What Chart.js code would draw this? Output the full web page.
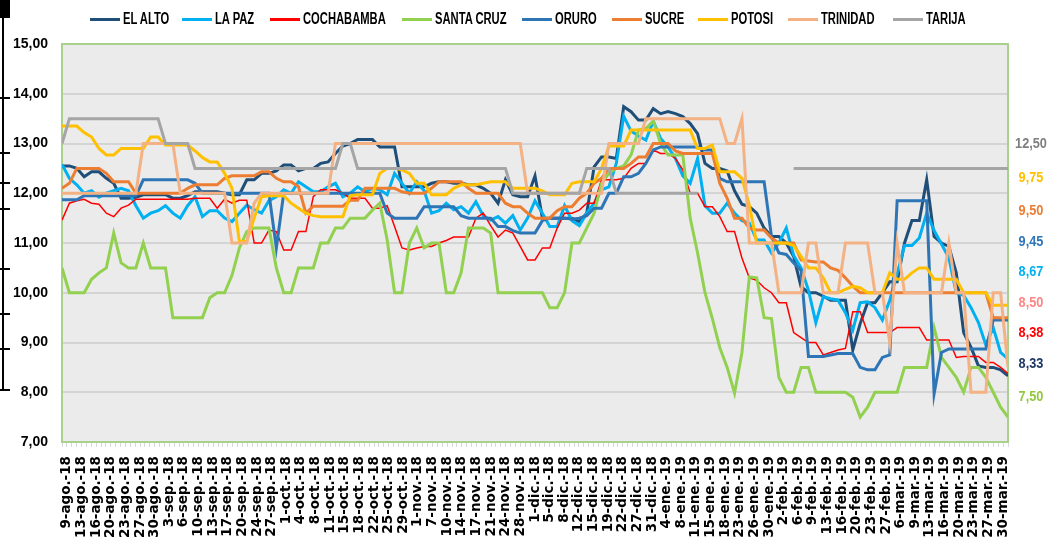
<!doctype html>
<html lang="es">
<head>
<meta charset="UTF-8">
<title>Precios por ciudad</title>
<style>
  * { margin: 0; padding: 0; box-sizing: border-box; }
  body { background: #fff; }
  #contenedor { position: relative; width: 1049px; height: 543px; overflow: hidden; }
  #grafico { position: absolute; left: 0; top: 0; }
  .final {
    position: absolute; left: 1011px; width: 40px; text-align: center;
    font: bold 15px 'Liberation Sans', Arial, sans-serif;
    line-height: 18px; transform: scaleX(0.85);
  }
  .marcaLeyenda { position: absolute; top: 18px; width: 30px; height: 3px; }
  .textoLeyenda {
    position: absolute; top: 10px; white-space: nowrap; color: #000;
    font: bold 16px 'Liberation Sans', Arial, sans-serif; line-height: 18px;
    transform: scaleX(0.7); transform-origin: left center;
  }
  #bloque { position: absolute; left: 0; top: 0; width: 10px; height: 18px; background: #000; }
  #barra { position: absolute; left: 2px; top: 0; width: 2px; height: 390px; background: #000; }
  .marca { position: absolute; left: 0; width: 10px; height: 2px; background: #000; }
</style>
</head>
<body>
<div id="contenedor">
  <canvas id="grafico" width="1049" height="543"></canvas>
  <div id="bloque"></div>
  <div id="barra"></div>
</div>

<script src="https://cdn.jsdelivr.net/npm/chart.js"></script>
<script>
// fechas rotuladas (cada tercer dato del original)
const fechas = ['9-ago.-18','13-ago.-18','16-ago.-18','20-ago.-18','23-ago.-18','27-ago.-18','30-ago.-18',
  '3-sep.-18','6-sep.-18','10-sep.-18','13-sep.-18','17-sep.-18','20-sep.-18','24-sep.-18','27-sep.-18',
  '1-oct.-18','4-oct.-18','8-oct.-18','11-oct.-18','15-oct.-18','18-oct.-18','22-oct.-18','25-oct.-18','29-oct.-18',
  '1-nov.-18','7-nov.-18','10-nov.-18','14-nov.-18','17-nov.-18','21-nov.-18','24-nov.-18','28-nov.-18',
  '1-dic.-18','5-dic.-18','8-dic.-18','12-dic.-18','15-dic.-18','19-dic.-18','22-dic.-18','27-dic.-18','31-dic.-18',
  '4-ene.-19','8-ene.-19','11-ene.-19','15-ene.-19','18-ene.-19','23-ene.-19','26-ene.-19','30-ene.-19',
  '2-feb.-19','6-feb.-19','9-feb.-19','13-feb.-19','16-feb.-19','20-feb.-19','23-feb.-19','27-feb.-19',
  '6-mar.-19','9-mar.-19','13-mar.-19','16-mar.-19','20-mar.-19','23-mar.-19','27-mar.-19','30-mar.-19'];

const elAlto = [12.55,12.55,12.5,12.33,12.43,12.43,12.3,12.2,11.9,11.9,11.92,11.97,11.97,11.97,11.97,11.9,11.9,11.95,12.03,12.03,12.03,12.03,12.0,11.97,
  11.97,12.27,12.27,12.4,12.4,12.45,12.57,12.57,12.45,12.5,12.5,12.6,12.63,12.8,12.95,13.0,13.08,13.08,13.08,12.93,12.93,12.93,12.13,
  12.13,12.13,12.13,12.2,12.23,12.23,12.2,12.2,12.17,12.17,12.1,12.0,11.8,12.27,11.97,11.93,11.93,12.35,11.5,11.5,11.5,11.5,11.5,
  11.43,11.6,12.53,12.73,12.73,12.7,13.74,13.64,13.47,13.47,13.7,13.6,13.64,13.6,13.54,13.4,13.2,12.6,12.5,12.5,12.45,12.05,11.78,
  11.73,11.6,11.3,11.13,11.13,11.0,10.73,10.12,10.0,10.0,9.93,9.85,9.85,9.85,8.85,9.38,9.8,9.8,10.0,10.22,
  10.22,11.0,11.45,11.45,12.27,11.13,11.0,10.93,10.4,9.2,8.9,8.53,8.5,8.5,8.45,8.33];

const laPaz = [12.58,12.3,12.17,12.0,12.05,11.92,12.0,12.05,12.1,12.05,11.75,11.5,11.6,11.65,11.75,11.6,11.5,11.75,11.93,11.53,11.65,11.65,11.5,11.43,
  11.6,11.76,11.67,11.6,11.85,11.93,12.07,12.0,12.23,12.13,12.03,12.03,12.13,12.2,11.93,12.0,12.13,12.03,12.1,12.07,11.97,12.4,12.2,
  12.0,12.23,12.05,11.6,11.65,11.8,11.67,11.73,11.6,11.83,11.55,11.46,11.53,11.4,11.55,11.26,11.5,11.85,11.6,11.33,11.33,11.75,11.45,
  11.35,11.6,11.8,12.07,12.13,12.6,13.55,13.25,13.15,13.07,13.45,13.1,12.93,12.7,12.35,12.2,12.7,11.75,11.6,11.6,11.8,11.6,11.45,
  11.4,11.06,11.06,10.8,11.0,11.3,10.75,10.5,10.05,9.4,9.92,9.88,9.85,9.6,9.25,9.8,9.82,9.7,9.45,9.85,
  10.38,10.95,10.95,11.1,11.6,11.25,10.98,10.7,10.0,9.95,9.7,9.4,8.95,9.3,8.8,8.67];

const cochabamba = [11.46,11.8,11.85,11.88,11.8,11.78,11.6,11.53,11.7,11.76,11.88,11.88,11.88,11.88,11.88,11.88,11.88,11.88,11.9,11.9,11.9,11.7,11.88,11.8,
  11.86,11.86,11.0,11.0,11.26,11.23,10.86,10.86,11.23,11.23,11.93,12.07,12.07,12.07,12.0,11.9,11.9,11.9,11.7,11.7,11.75,11.33,10.9,
  10.86,10.9,10.93,10.93,11.0,11.05,11.12,11.12,11.12,11.5,11.6,11.35,11.12,11.26,11.2,10.93,10.66,10.66,10.9,10.9,11.3,11.6,11.6,
  11.66,11.8,11.8,12.27,12.27,12.27,12.3,12.5,12.6,12.6,12.87,12.8,12.8,12.7,12.47,12.0,12.0,11.73,11.73,11.53,11.23,11.23,10.7,
  10.3,10.25,10.1,10.0,9.8,9.8,9.2,9.1,9.0,9.0,8.75,8.8,8.85,8.88,9.62,9.62,9.2,9.2,9.2,9.2,
  9.3,9.3,9.3,9.3,9.05,9.05,9.05,9.05,8.7,8.72,8.72,8.72,8.6,8.6,8.5,8.38];

const santaCruz = [10.5,10.0,10.0,10.0,10.27,10.4,10.5,11.2,10.6,10.5,10.5,11.0,10.5,10.5,10.5,9.5,9.5,9.5,9.5,9.5,9.9,10.0,10.0,10.35,
  10.9,11.23,11.3,11.3,11.3,10.5,10.0,10.0,10.5,10.5,10.5,11.0,11.0,11.3,11.3,11.5,11.5,11.5,11.66,11.8,11.06,10.0,10.0,
  11.0,11.3,10.9,11.0,11.0,10.0,10.0,10.4,11.3,11.3,11.3,11.2,10.0,10.0,10.0,10.0,10.0,10.0,10.0,9.7,9.7,10.0,11.0,
  11.0,11.3,11.6,12.2,12.4,12.5,12.55,12.77,13.27,13.3,13.45,13.0,12.77,12.77,12.77,11.5,10.8,10.0,9.48,8.9,8.5,7.98,8.8,
  10.32,10.3,9.5,9.48,8.3,8.0,8.0,8.5,8.5,8.0,8.0,8.0,8.0,8.0,7.9,7.5,7.7,8.0,8.0,8.0,
  8.0,8.5,8.5,8.5,8.5,9.3,8.7,8.5,8.3,8.0,8.5,8.5,8.3,8.0,7.7,7.5];

const oruro = [11.87,11.87,11.87,11.95,11.95,11.95,11.95,11.95,11.95,11.95,11.95,12.27,12.27,12.27,12.27,12.27,12.27,12.27,12.2,12.0,12.0,12.0,12.0,12.0,
  12.0,12.0,12.0,12.0,12.0,10.9,12.0,12.0,12.0,12.0,12.0,12.0,12.0,12.0,12.0,12.0,12.0,12.0,12.0,12.0,11.6,11.5,11.5,
  11.5,11.5,11.73,11.73,11.73,11.73,11.73,11.55,11.5,11.5,11.5,11.5,11.33,11.33,11.25,11.2,11.2,11.2,11.45,11.5,11.5,11.5,11.48,
  11.5,11.55,11.7,11.7,12.0,12.0,12.33,12.33,12.4,12.6,12.87,12.93,12.93,12.93,12.93,12.93,12.93,12.87,12.87,12.3,12.23,12.23,12.23,
  12.23,12.23,12.23,11.13,10.8,10.77,10.6,10.45,8.72,8.72,8.72,8.75,8.78,8.78,8.78,8.5,8.45,8.45,8.7,8.75,
  11.85,11.85,11.85,11.85,11.85,7.97,8.8,8.87,8.87,8.87,8.87,8.87,8.87,9.45,9.45,9.45];

const sucre = [12.1,12.2,12.5,12.5,12.5,12.5,12.4,12.23,12.23,12.23,12.0,12.0,12.0,12.0,12.0,12.0,12.0,12.1,12.17,12.17,12.17,12.17,12.3,12.35,
  12.35,12.35,12.35,12.43,12.43,12.3,12.23,12.23,12.13,11.6,11.74,11.74,11.74,11.74,11.74,11.86,11.86,12.1,12.1,12.1,12.1,12.1,12.03,
  12.0,12.0,12.0,12.1,12.23,12.23,12.23,12.23,12.1,12.0,12.0,12.0,12.0,11.8,11.73,11.73,11.6,11.5,11.5,11.5,11.65,11.73,11.73,
  11.9,12.0,12.2,12.3,12.5,12.5,12.5,12.6,12.73,12.73,13.0,13.0,13.0,12.85,12.8,12.8,12.8,12.8,12.8,12.2,11.9,11.5,11.5,
  11.3,11.26,11.26,11.1,11.0,11.0,11.0,10.66,10.64,10.62,10.62,10.5,10.45,10.3,10.13,10.0,10.0,10.0,10.0,10.0,
  10.0,10.0,10.0,10.0,10.0,10.0,10.0,10.0,10.0,10.0,10.0,10.0,10.0,9.5,9.5,9.5];

const potosi = [13.35,13.35,13.35,13.22,13.13,12.9,12.77,12.77,12.9,12.9,12.9,12.9,13.13,13.13,12.97,12.97,12.97,12.97,12.85,12.72,12.63,12.63,12.4,12.1,
  11.03,11.03,11.5,11.93,11.95,11.95,11.95,11.8,11.7,11.6,11.55,11.53,11.53,11.53,11.53,11.95,11.97,11.97,11.97,12.4,12.5,12.5,12.47,
  12.4,12.2,12.2,11.97,11.97,11.97,12.1,12.17,12.17,12.17,12.2,12.23,12.23,12.23,12.1,12.1,12.1,12.1,12.05,11.97,11.97,11.97,12.2,
  12.23,12.23,12.23,12.5,12.95,12.95,12.95,13.27,13.27,13.27,13.27,13.27,13.27,13.27,13.27,13.27,12.9,12.9,12.97,12.43,12.43,12.43,12.3,
  11.76,11.0,11.0,11.0,11.0,11.0,10.95,10.73,10.5,10.5,10.3,10.0,10.0,10.07,10.13,10.1,10.0,10.0,10.0,10.4,
  10.27,10.27,10.4,10.5,10.5,10.27,10.27,10.27,10.27,10.0,10.0,10.0,10.0,9.75,9.75,9.75];

const trinidad = [12.0,12.0,12.0,12.0,12.0,12.0,12.0,12.0,12.0,12.0,12.0,13.0,13.0,13.0,13.0,13.0,12.0,12.0,12.0,12.0,12.0,12.0,12.0,11.0,
  11.0,11.0,11.8,12.0,12.0,12.0,12.0,12.0,12.0,12.0,12.0,12.0,12.0,13.0,13.0,13.0,13.0,13.0,13.0,13.0,13.0,13.0,13.0,
  13.0,13.0,13.0,13.0,13.0,13.0,13.0,13.0,13.0,13.0,13.0,13.0,13.0,13.0,13.0,13.0,12.0,12.0,12.0,12.0,12.0,12.0,12.0,
  12.0,12.0,12.0,12.0,13.0,13.0,13.0,13.0,13.0,13.5,13.5,13.5,13.5,13.5,13.5,13.5,13.5,13.5,13.5,13.5,13.0,13.0,13.5,
  11.0,11.0,11.0,11.0,10.0,10.0,10.0,10.0,11.0,11.0,10.0,10.0,10.0,11.0,11.0,11.0,11.0,10.0,10.0,9.0,
  11.0,10.0,10.0,10.0,10.0,10.0,10.0,11.0,10.0,10.0,8.0,8.0,8.0,10.0,10.0,8.5];

const tarija = [13.0,13.5,13.5,13.5,13.5,13.5,13.5,13.5,13.5,13.5,13.5,13.5,13.5,13.5,13.0,13.0,13.0,13.0,12.5,12.5,12.5,12.5,12.5,12.5,
  12.5,12.5,12.5,12.5,12.5,12.5,12.5,12.5,12.5,12.5,12.5,12.5,12.5,12.5,13.0,13.0,12.5,12.5,12.5,12.5,12.5,12.5,12.5,
  12.5,12.5,12.5,12.5,12.5,12.5,12.5,12.5,12.5,12.5,12.5,12.5,12.5,12.5,12.0,12.0,12.0,12.0,12.0,12.0,12.0,12.0,12.0,
  12.0,12.5,12.5,12.5,12.5,12.0,12.0,12.0,12.0,12.0,12.0,12.0,12.0,12.0,12.0,12.0,12.0,null,null,null,null,null,null,
  null,null,null,null,null,null,12.5,12.5,12.5,12.5,12.5,12.5,12.5,12.5,12.5,12.5,12.5,12.5,12.5,12.5,
  12.5,12.5,12.5,12.5,12.5,12.5,12.5,12.5,12.5,12.5,12.5,12.5,12.5,12.5,12.5,12.5];

const ciudades = ['EL ALTO', 'LA PAZ', 'COCHABAMBA', 'SANTA CRUZ', 'ORURO', 'SUCRE', 'POTOSI', 'TRINIDAD', 'TARIJA'];
const series = [elAlto, laPaz, cochabamba, santaCruz, oruro, sucre, potosi, trinidad, tarija];
const colores = ['#1f4e79', '#00b0f0', '#ff0000', '#92d050', '#2e75b6', '#ed7d31', '#ffc000', '#f4b183', '#a5a5a5'];
const grosores = [3, 3, 1.5, 3, 3, 3, 3, 3, 3];

// valores finales anotados a la derecha
const finales = ['12,50', '9,75', '9,50', '9,45', '8,67', '8,50', '8,38', '8,33', '7,50'];
const coloresFinales = ['#7f7f7f', '#ffc000', '#ed7d31', '#2e75b6', '#00b0f0', '#ff8585', '#ff0000', '#1f3864', '#92c83e'];
const posFinales = [143, 177, 210, 241, 271, 302, 332, 363, 396];

// posicion x de cada muestra de la leyenda
const posLeyenda = [90, 182, 270, 402, 522, 612, 698, 788, 893];

// eje x en unidades de rotulo: el original tiene un dato antes del primer rotulo y otro despues del ultimo
const xMin = -1 / 3;
const xMax = fechas.length - 1 + 1 / 3;
const nMuestras = elAlto.length;
const posX = j => xMin + j * (xMax - xMin) / (nMuestras - 1);

const fondoPlot = {
  id: 'fondoPlot',
  beforeDraw(chart) {
    const {ctx, chartArea: a} = chart;
    ctx.save();
    ctx.fillStyle = '#ebebeb';
    ctx.fillRect(a.left, a.top, a.right - a.left, a.bottom - a.top);
    ctx.restore();
  },
  beforeDatasetsDraw(chart) {
    const {ctx, chartArea: a} = chart;
    ctx.save();
    ctx.strokeStyle = '#a9d18e';
    ctx.lineWidth = 2;
    ctx.strokeRect(a.left, a.top, a.right - a.left, a.bottom - a.top);
    ctx.restore();
  }
};

const datasets = ciudades.map((c, i) => ({
  label: c,
  data: series[i].map((v, j) => ({ x: posX(j), y: v })),
  borderColor: colores[i],
  backgroundColor: colores[i],
  borderWidth: grosores[i],
  pointRadius: 0,
  tension: 0,
  spanGaps: false,
  order: ciudades.length - 1 - i
}));

new Chart(document.getElementById('grafico'), {
  type: 'line',
  data: { datasets: datasets },
  options: {
    responsive: false,
    animation: false,
    layout: { padding: { top: 44 } },
    plugins: {
      tooltip: { enabled: false },
      legend: { display: false }
    },
    scales: {
      x: {
        type: 'linear',
        min: xMin,
        max: xMax,
        afterBuildTicks: s => {
          const t = [];
          for (let k = 0; k <= (fechas.length - 1) * 3 + 2; k++) t.push({ value: xMin + k / 3 });
          s.ticks = t;
        },
        grid: { display: true, drawOnChartArea: false, drawTicks: true, tickLength: 5, color: '#d9d9d9' },
        border: { display: false },
        ticks: {
          autoSkip: false, maxRotation: 90, minRotation: 90, padding: 9,
          color: '#000',
          font: { family: "'DejaVu Sans', Verdana, sans-serif", size: 13.5, weight: 'bold' },
          callback: (v, i) => ((i - 1) % 3 === 0 ? fechas[(i - 1) / 3] : '')
        },
        afterFit: s => { s.height = 101; }
      },
      y: {
        min: 7, max: 15,
        ticks: {
          stepSize: 1, padding: 14, color: '#000',
          font: { family: "'Liberation Sans', Arial, sans-serif", size: 14, weight: 'bold' },
          callback: v => v.toFixed(2).replace('.', ',')
        },
        grid: { color: '#d4d4d4', lineWidth: 2, drawTicks: false },
        border: { display: false },
        afterFit: s => { s.width = 62; }
      },
      derecha: {
        position: 'right',
        display: true,
        grid: { display: false },
        border: { display: false },
        ticks: { display: false },
        afterFit: s => { s.width = 41; }
      }
    }
  },
  plugins: [fondoPlot]
});

const cont = document.getElementById('contenedor');

// leyenda
ciudades.forEach((c, i) => {
  const m = document.createElement('div');
  m.className = 'marcaLeyenda';
  m.style.left = posLeyenda[i] + 'px';
  m.style.background = colores[i];
  cont.appendChild(m);
  const t = document.createElement('div');
  t.className = 'textoLeyenda';
  t.style.left = (posLeyenda[i] + 33) + 'px';
  t.textContent = c;
  cont.appendChild(t);
});

// etiquetas de valor final
finales.forEach((t, i) => {
  const d = document.createElement('div');
  d.className = 'final';
  d.textContent = t;
  d.style.color = coloresFinales[i];
  d.style.top = (posFinales[i] - 9) + 'px';
  cont.appendChild(d);
});

// marcas del borde izquierdo
[97, 152, 182, 208, 268, 313, 348, 389].forEach(y => {
  const m = document.createElement('div');
  m.className = 'marca';
  m.style.top = y + 'px';
  cont.appendChild(m);
});
</script>
</body>
</html>
